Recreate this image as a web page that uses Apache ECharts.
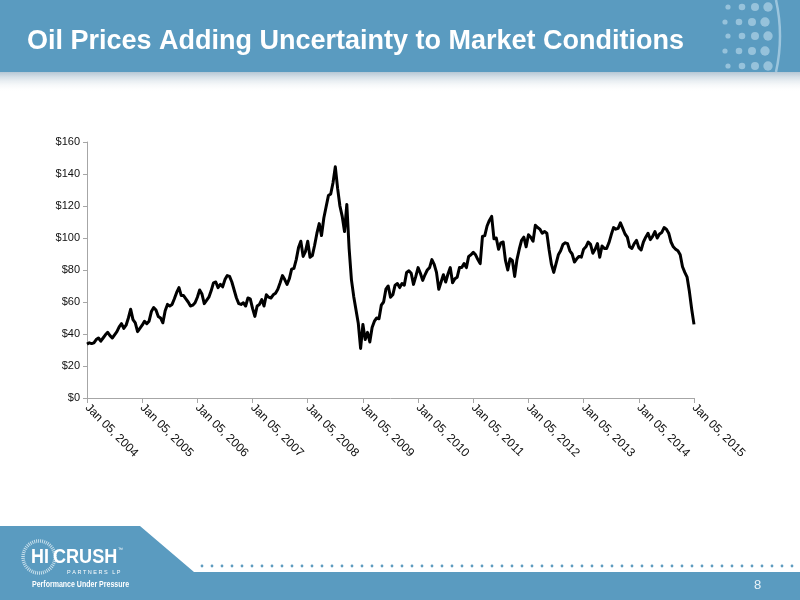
<!DOCTYPE html>
<html lang="en">
<head>
	<meta charset="UTF-8">
	<title>Oil Prices</title>
	<style type="text/css">
		html, body{ margin: 0; padding: 0; background: #fff; }
		.box{ width: 800px; height: 600px; }
	</style>
</head>
<body>
	<div class="box" id="box"></div>
	<script type="text/javascript" src="https://cdn.jsdelivr.net/npm/echarts@6/dist/echarts.min.js"></script>
	<script type="text/javascript">
		// WTI price, two readings per month (start / middle of month)
		var p2004 = [33.7, 34.5, 34.0, 34.5, 36.5, 37.5, 35.5, 37.5, 39.5, 41.0, 39.0, 37.5, 39.5, 41.5, 44.5, 46.5, 43.5, 45.5, 50.0, 55.5, 49.0, 47.0, 41.5, 43.5];
		var p2005 = [45.5, 48.0, 46.5, 48.0, 54.0, 56.5, 55.0, 51.0, 50.0, 47.0, 54.5, 58.5, 57.5, 58.5, 62.0, 66.0, 69.0, 64.0, 64.0, 62.0, 60.0, 57.5, 58.0, 59.5];
		var p2006 = [63.0, 67.5, 65.0, 59.0, 61.0, 63.0, 67.0, 72.0, 72.5, 69.0, 71.0, 69.5, 74.0, 76.5, 76.0, 72.5, 67.5, 62.5, 59.0, 58.5, 59.5, 57.5, 62.5, 62.0];
		var p2007 = [56.0, 51.0, 57.5, 58.5, 61.5, 57.5, 64.5, 63.0, 62.5, 64.5, 65.5, 68.0, 72.0, 76.5, 74.0, 71.0, 74.5, 80.5, 81.0, 86.5, 94.0, 98.0, 88.5, 91.5];
		var p2008 = [98.0, 88.0, 89.0, 95.5, 103.0, 109.0, 101.5, 112.5, 119.5, 126.5, 127.5, 134.5, 144.5, 131.0, 120.0, 113.5, 104.0, 121.0, 93.5, 74.0, 63.5, 55.0, 46.5, 31.0];
		var p2009 = [46.0, 36.5, 41.0, 35.0, 44.0, 48.0, 50.0, 49.5, 58.0, 60.0, 68.0, 70.0, 63.0, 64.5, 70.5, 71.5, 69.0, 71.5, 70.5, 78.5, 79.5, 78.0, 71.0, 76.0];
		var p2010 = [81.5, 78.0, 73.5, 77.0, 80.0, 81.5, 86.5, 83.5, 78.5, 68.0, 72.5, 77.0, 72.5, 77.5, 81.5, 72.0, 74.5, 75.5, 81.5, 81.5, 84.0, 81.5, 88.5, 89.5];
		var p2011 = [91.0, 89.5, 86.5, 84.0, 101.0, 101.5, 107.5, 111.0, 113.5, 99.5, 100.0, 93.0, 97.0, 97.5, 86.0, 80.0, 87.0, 86.0, 76.0, 86.5, 93.0, 98.5, 100.5, 94.5];
		var p2012 = [102.0, 100.5, 98.0, 108.0, 106.5, 105.5, 103.0, 104.0, 103.0, 92.5, 83.5, 78.5, 84.0, 89.5, 92.0, 96.0, 97.0, 96.5, 92.0, 90.0, 85.0, 87.0, 88.5, 88.0];
		var p2013 = [93.0, 94.5, 97.5, 96.0, 90.5, 93.0, 96.5, 88.0, 95.0, 93.5, 93.5, 97.0, 102.0, 106.5, 105.5, 106.0, 109.5, 106.0, 102.5, 100.5, 94.5, 93.5, 96.5, 98.5];
		var p2014 = [94.0, 92.5, 97.5, 100.5, 103.0, 99.0, 101.0, 104.0, 100.0, 102.5, 103.5, 106.5, 105.5, 103.0, 97.5, 94.5, 93.0, 92.0, 89.5, 82.0, 78.5, 75.5, 66.5, 55.5];
		var p2015 = [46.0];

		var years = [2004, 2005, 2006, 2007, 2008, 2009, 2010, 2011, 2012, 2013, 2014, 2015];
		var months = ['Jan', 'Feb', 'Mar', 'Apr', 'May', 'Jun', 'Jul', 'Aug', 'Sep', 'Oct', 'Nov', 'Dec'];
		var yTicks = [0, 20, 40, 60, 80, 100, 120, 140, 160];

		var prices = [].concat(p2004, p2005, p2006, p2007, p2008, p2009, p2010, p2011, p2012, p2013, p2014, p2015);

		// category labels: "Jan 05, 2004", "Jan 20, 2004", ...
		var dates = [];
		years.forEach(function (y){
			months.forEach(function (m){
				dates.push(m + ' 05, ' + y);
				dates.push(m + ' 20, ' + y);
			});
		});
		dates.length = prices.length;

		var blue = '#5a9bc0';
		var myChart = echarts.init(document.getElementById('box'));

		// decorative dots in the header
		var dots = [];
		var dotCols = [728, 742, 755, 768];
		var dotRows = [7, 22, 36, 51, 66];
		dotRows.forEach(function (y, r){
			dotCols.forEach(function (x, c){
				dots.push({
					type: 'circle',
					shape: { cx: x - (r % 2) * 3, cy: y, r: 2.6 + c * 0.7 },
					style: { fill: 'rgba(200,225,240,0.55)' },
					silent: true
				});
			});
		});

		// dotted rule above the footer band
		var rule = [];
		for (var x = 202; x < 800; x += 10){
			rule.push({
				type: 'circle',
				shape: { cx: x, cy: 566, r: 1.4 },
				style: { fill: '#5f9cc0' },
				silent: true
			});
		}

		var option = {
			animation: false,
			grid: {
				left: 87,
				right: 106,
				top: 142,
				bottom: 202,
				containLabel: false
			},
			xAxis: {
				type: 'category',
				data: dates,
				boundaryGap: false,
				axisLine: { lineStyle: { color: '#a6a6a6', width: 1 } },
				axisTick: {
					length: 5,
					lineStyle: { color: '#a6a6a6' },
					interval: function (index){ return index % 24 === 0; }
				},
				axisLabel: {
					interval: function (index){ return index % 24 === 0; },
					rotate: -45,
					margin: 8,
					color: '#111',
					fontSize: 12,
					fontFamily: 'Liberation Sans, Arial, sans-serif'
				},
				splitLine: { show: false }
			},
			yAxis: {
				type: 'value',
				min: yTicks[0],
				max: yTicks[yTicks.length - 1],
				interval: 20,
				axisLine: { show: true, lineStyle: { color: '#a6a6a6', width: 1 } },
				axisTick: { show: true, length: 4, lineStyle: { color: '#a6a6a6' } },
				axisLabel: {
					formatter: function (v){ return '$' + v; },
					color: '#111',
					fontSize: 11,
					margin: 7,
					fontFamily: 'Liberation Sans, Arial, sans-serif'
				},
				splitLine: { show: false }
			},
			series: [{
				type: 'line',
				data: prices,
				showSymbol: false,
				lineStyle: { color: '#000', width: 3, join: 'round' },
				z: 5
			}],
			graphic: [
				{
					type: 'rect',
					shape: { x: 0, y: 72, width: 800, height: 20 },
					style: {
						fill: new echarts.graphic.LinearGradient(0, 0, 0, 1, [
							{ offset: 0, color: 'rgba(90,130,160,0.45)' },
							{ offset: 1, color: 'rgba(255,255,255,0)' }
						])
					},
					silent: true
				},
				{
					type: 'rect',
					shape: { x: 0, y: 0, width: 800, height: 72 },
					style: { fill: blue },
					silent: true
				},
				{
					type: 'group',
					children: dots
				},
				{
					type: 'bezierCurve',
					shape: { x1: 776, y1: 0, x2: 776, y2: 72, cpx1: 784, cpy1: 36 },
					style: { stroke: 'rgba(200,225,240,0.6)', lineWidth: 2.5, fill: null },
					silent: true
				},
				{
					type: 'text',
					left: 27,
					top: 28,
					style: {
						text: 'Oil Prices Adding Uncertainty to Market Conditions',
						fill: '#fff',
						font: 'bold 27px "Liberation Sans", Arial, sans-serif'
					},
					silent: true
				},
				// footer band
				{
					type: 'polygon',
					shape: { points: [[0, 526], [140, 526], [194, 572], [800, 572], [800, 600], [0, 600]] },
					style: { fill: blue },
					silent: true
				},
				{
					type: 'group',
					children: rule
				},
				{
					type: 'text',
					x: 754,
					y: 579,
					style: { text: '8', fill: '#e8f2f8', font: '13px "Liberation Sans", Arial, sans-serif' },
					silent: true
				},
				// logo
				{
					type: 'circle',
					shape: { cx: 39, cy: 557, r: 16 },
					style: { fill: null, stroke: 'rgba(235,245,250,0.75)', lineWidth: 3.5, lineDash: [1, 1] },
					silent: true
				},
				{
					type: 'text',
					x: 31,
					y: 547,
					scaleX: 0.85,
					style: { text: 'HI', fill: '#fff', font: 'bold 21px "Liberation Sans", Arial, sans-serif' },
					silent: true
				},
				{
					type: 'text',
					x: 53,
					y: 547,
					scaleX: 0.86,
					style: { text: 'CRUSH', fill: '#fff', font: 'bold 21px "Liberation Sans", Arial, sans-serif' },
					silent: true
				},
				{
					type: 'text',
					x: 118,
					y: 547,
					style: { text: '\u2122', fill: '#fff', font: '5px "Liberation Sans", Arial, sans-serif' },
					silent: true
				},
				{
					type: 'text',
					x: 67,
					y: 569,
					style: { text: 'P A R T N E R S   L P', fill: '#fff', font: '5.5px "Liberation Sans", Arial, sans-serif' },
					silent: true
				},
				{
					type: 'text',
					x: 32,
					y: 580,
					scaleX: 0.78,
					style: { text: 'Performance Under Pressure', fill: '#fff', font: 'bold 9px "Liberation Sans", Arial, sans-serif' },
					silent: true
				}
			]
		};
		myChart.setOption(option);
	</script>
</body>
</html>
